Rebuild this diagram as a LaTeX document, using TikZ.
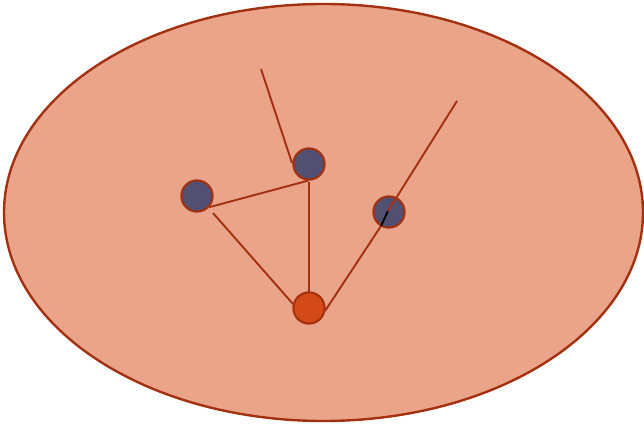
\documentclass[tikz,border=0pt]{standalone}
\usepackage{tikz}

\definecolor{blobfill}{HTML}{E9A48A}
\definecolor{rust}{HTML}{A3300F}
\definecolor{slate}{HTML}{525070}
\definecolor{ember}{HTML}{D44A18}
\definecolor{shade}{HTML}{3A2E5C}

\tikzset{
  site/.style={circle, draw=rust, line width=1.5pt, minimum size=0.78cm, inner sep=0pt},
  bond/.style={rust, line width=1.35pt}
}

\begin{document}
\begin{tikzpicture}[x=0.025cm, y=-0.025cm]
  \useasboundingbox (0,0) rectangle (644,425);

  % Region
  \draw[rust, line width=1.7pt, fill=blobfill] (323.5,212.5) ellipse [x radius=319.5, y radius=208.5];

  % Free ends
  \coordinate (topend) at (261,69);
  \coordinate (topfoot) at (292,163);
  \coordinate (rightend) at (457,101);
  \coordinate (rightfoot) at (381,226);
  \coordinate (rightmid) at (388,211);
  \coordinate (leftfoot) at (213,213);
  \coordinate (basefoot) at (293,304);
  \coordinate (baseside) at (325,311);

  % Bonds behind the sites
  \draw[bond] (topend) -- (topfoot);
  \draw[bond] (309,182) -- (309,292);
  \draw[bond] (leftfoot) -- (basefoot);
  \draw[bond] (baseside) -- (rightfoot);

  % Sites
  \node[site, fill=slate] (left) at (197,196) {};
  \node[site, fill=slate] (top) at (309,164) {};
  \node[site, fill=slate] (right) at (389,212) {};
  \node[site, fill=ember] (base) at (309,308) {};

  % Bonds in front
  \draw[bond] (left.-42) -- (top.-93);
  \draw[shade, line width=1.35pt] (rightfoot) -- (rightmid);
  \draw[bond] (rightmid) -- (rightend);
\end{tikzpicture}
\end{document}
